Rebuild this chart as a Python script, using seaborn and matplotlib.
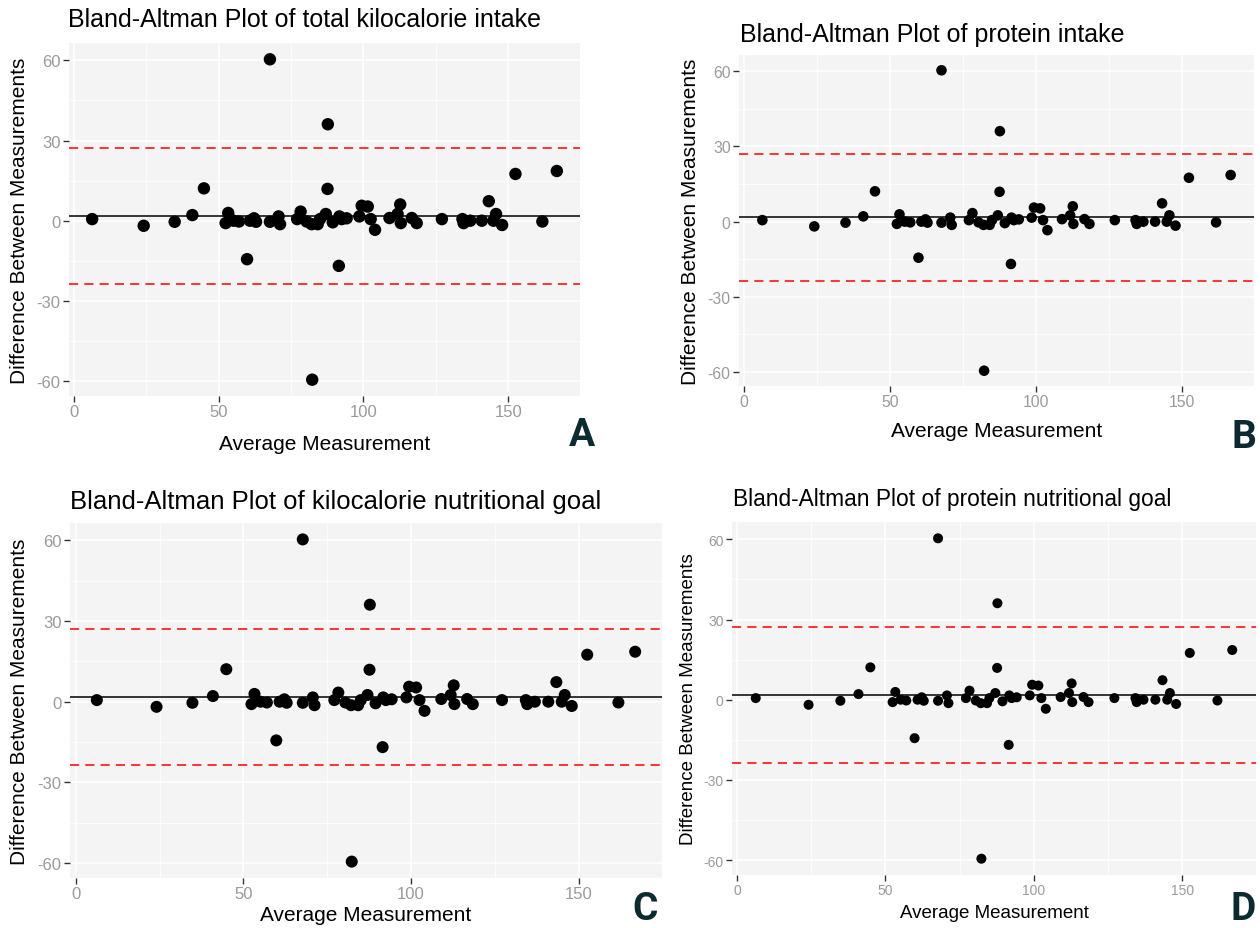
import numpy as np
import pandas as pd
import matplotlib
matplotlib.use("Agg")
import matplotlib.pyplot as plt
import seaborn as sns
from matplotlib.ticker import FixedLocator, MultipleLocator

# ---------------- data ----------------
avg_measurement = [6.3, 24.1, 34.8, 40.9, 44.9, 52.4, 53.3, 55.1, 57.0, 59.8,
                   60.8, 62.2, 62.9, 67.7, 67.7, 70.7, 71.2, 77.1, 78.3, 80.4,
                   82.1, 82.3, 84.2, 85.0, 87.0, 87.7, 87.6, 89.4, 91.5, 91.7,
                   92.5, 94.2, 98.6, 99.4, 101.5, 102.5, 104.0, 109.0, 111.8, 112.7,
                   112.9, 116.7, 118.4, 127.1, 134.2, 134.6, 136.9, 140.9, 143.3, 144.9,
                   145.8, 147.9, 152.5, 161.8, 166.8]
diff_measurement = [0.6, -1.9, -0.4, 2.1, 12.1, -0.9, 2.9, 0.0, -0.3, -14.4,
                    0.0, 0.9, -0.4, 60.4, -0.4, 1.6, -1.3, 0.6, 3.4, -0.3,
                    -1.3, -59.5, -1.3, 0.6, 2.5, 36.1, 11.9, -0.6, -16.9, 1.6,
                    0.6, 0.9, 1.6, 5.6, 5.3, 0.6, -3.4, 1.0, 2.5, 6.1,
                    -0.9, 1.0, -0.9, 0.6, 0.6, -0.9, 0.0, 0.0, 7.3, 0.0,
                    2.5, -1.6, 17.5, -0.3, 18.6]
mean_difference = 1.7
upper_limit = 27.1
lower_limit = -23.7

titles = ["Bland-Altman Plot of total kilocalorie intake",
          "Bland-Altman Plot of protein intake",
          "Bland-Altman Plot of kilocalorie nutritional goal",
          "Bland-Altman Plot of protein nutritional goal"]
panel_letters = ["A", "B", "C", "D"]
x_ticks = [0, 50, 100, 150]
y_ticks = [-60, -30, 0, 30, 60]
x_label = "Average Measurement"
y_label = "Difference Between Measurements"

# ---------------- style ----------------
sns.set_style("darkgrid", {"axes.facecolor": "#F4F4F4", "grid.color": "white"})
plt.rcParams["font.family"] = ["Liberation Sans", "DejaVu Sans"]
plt.rcParams["axes.unicode_minus"] = False

W, H = 1260, 929
fig = plt.figure(figsize=(W / 100, H / 100), dpi=100)
fig.patch.set_facecolor("white")

df = pd.DataFrame({"avg": avg_measurement, "diff": diff_measurement})

# layout in pixels: rect = (left, top, right, bottom)
layouts = [
    dict(rect=(69, 44, 580, 397), title_xy=(68, 20), title_fs=18, lab_fs=15,
         tick_fs=12, s=80, xlab_y=445, ylab_x=20, letter_xy=(582, 436)),
    dict(rect=(739, 56, 1254, 387), title_xy=(740, 35), title_fs=18, lab_fs=15,
         tick_fs=11.3, s=58, xlab_y=432, ylab_x=690, letter_xy=(1244, 438)),
    dict(rect=(70, 524, 662, 879), title_xy=(70, 502), title_fs=18.5, lab_fs=15,
         tick_fs=12, s=75, xlab_y=916, ylab_x=20, letter_xy=(645, 910)),
    dict(rect=(732, 523, 1256, 876), title_xy=(733, 500), title_fs=16.4, lab_fs=13.5,
         tick_fs=10, s=52, xlab_y=914, ylab_x=688, letter_xy=(1243, 910)),
]

for title, letter, L in zip(titles, panel_letters, layouts):
    l, t, r, b = L["rect"]
    ax = fig.add_axes([l / W, 1 - b / H, (r - l) / W, (b - t) / H])
    ax.set_facecolor("#F4F4F4")
    sns.scatterplot(data=df, x="avg", y="diff", ax=ax, color="black",
                    s=L["s"], edgecolor="none", linewidth=0, zorder=3)
    ax.axhline(mean_difference, color="black", lw=1.1, zorder=2)
    ax.axhline(upper_limit, color="#FF0000", lw=1.1, ls=(0, (6, 4)), zorder=2)
    ax.axhline(lower_limit, color="#FF0000", lw=1.1, ls=(0, (6, 4)), zorder=2)

    ax.set_xlim(-1.7, 174.8)
    ax.set_ylim(-65.6, 66.5)
    ax.xaxis.set_major_locator(FixedLocator(x_ticks))
    ax.yaxis.set_major_locator(FixedLocator(y_ticks))
    ax.xaxis.set_minor_locator(MultipleLocator(25))
    ax.yaxis.set_minor_locator(MultipleLocator(15))
    ax.grid(which="major", color="white", lw=1.1)
    ax.grid(which="minor", color="white", lw=0.55)
    ax.set_axisbelow(True)
    ax.tick_params(which="minor", length=0)
    ax.tick_params(which="major", length=4, width=1, color="#333333",
                   labelcolor="#9a9a9a", labelsize=L["tick_fs"], pad=2,
                   bottom=True, left=True)
    for sp in ax.spines.values():
        sp.set_visible(False)

    ax.set_xlabel(x_label, fontsize=L["lab_fs"], color="black")
    ax.set_ylabel(y_label, fontsize=L["lab_fs"], color="black")
    ax.xaxis.set_label_coords(0.5, -(L["xlab_y"] - b) / (b - t))
    ax.xaxis.label.set_va("center")
    ax.yaxis.set_label_coords(-(l - L["ylab_x"]) / (r - l), 0.5)
    ax.yaxis.label.set_va("center")
    ax.yaxis.label.set_ha("center")

    tx, ty = L["title_xy"]
    fig.text(tx / W, 1 - ty / H, title, ha="left", va="center",
             fontsize=L["title_fs"], color="black")
    lx, ly = L["letter_xy"]
    fig.text(lx / W, 1 - ly / H, letter, ha="center", va="center",
             fontsize=28, fontweight="bold", color="#0c2a2f",
             family=["Roboto", "DejaVu Sans"])

fig.savefig("out.png", dpi=100, facecolor="white")
